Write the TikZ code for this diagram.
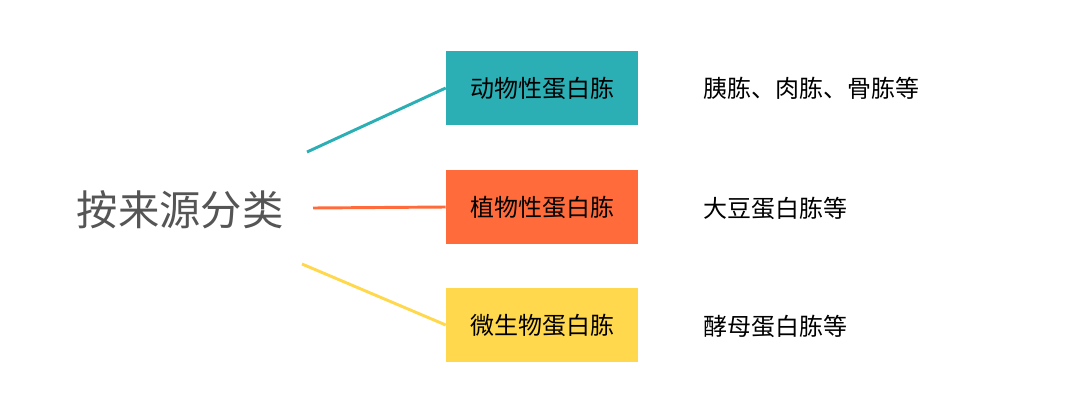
\documentclass[tikz,border=0pt]{standalone}
\usepackage{fontspec}
\setmainfont{Noto Sans CJK SC}
\usetikzlibrary{positioning}
\definecolor{tealc}{HTML}{2BAFB5}
\definecolor{orangec}{HTML}{FF6B3B}
\definecolor{yellowc}{HTML}{FFD84D}
\definecolor{grayc}{HTML}{555555}
\tikzset{
	box/.style={minimum width=192*0.75pt, minimum height=74*0.75pt, inner sep=0pt, font=\fontsize{18}{20}\selectfont},
	note/.style={anchor=west, inner sep=0pt, font=\fontsize{18}{20}\selectfont},
	link/.style={line width=2.2pt}
}
\begin{document}
\begin{tikzpicture}[x=0.75pt, y=-0.75pt]
	\useasboundingbox (0,0) rectangle (1080,414);
	% root label
	\node[text=grayc, font=\fontsize{31}{34}\selectfont] (root) at (180,210) {按来源分类};
	\coordinate (s1) at (307,152);
	\coordinate (s2) at (313,208);
	\coordinate (s3) at (302,264);
	% categories
	\node[box, fill=tealc] (animal) at (542,88) {动物性蛋白胨};
	\node[box, fill=orangec] (plant) at (542,207) {植物性蛋白胨};
	\node[box, fill=yellowc] (microbe) at (542,325) {微生物蛋白胨};
	% examples
	\node[note] (ex1) at (703,88) {胰胨、肉胨、骨胨等};
	\node[note] (ex2) at (703,208) {大豆蛋白胨等};
	\node[note] (ex3) at (703,326) {酵母蛋白胨等};
	% connectors
	\draw[link, tealc] (s1) -- (animal.west);
	\draw[link, orangec] (s2) -- (plant.west);
	\draw[link, yellowc] (s3) -- (microbe.west);
\end{tikzpicture}
\end{document}
